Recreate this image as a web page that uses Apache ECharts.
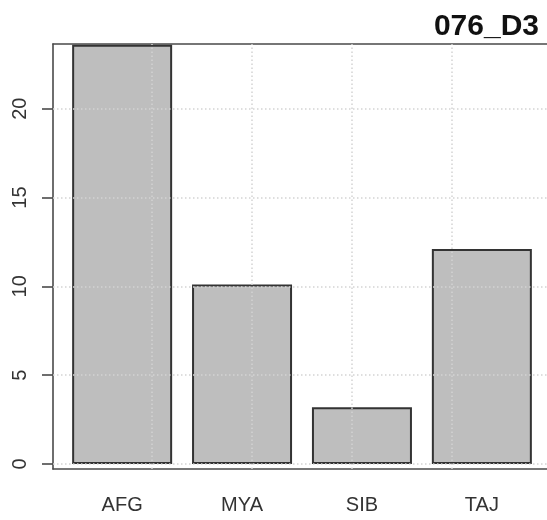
<!DOCTYPE html>
<html>
<head>
<meta charset="utf-8">
<script src="https://cdn.jsdelivr.net/npm/echarts@6/dist/echarts.min.js"></script>
<style>
  html, body { margin: 0; padding: 0; background: #ffffff; }
  #chart { width: 547px; height: 520px; }
</style>
</head>
<body>
<div id="chart"></div>
<script>
// Counts per region
const categories = ['AFG', 'MYA', 'SIB', 'TAJ'];
const counts = [23.6, 10.1, 3.2, 12.1];
const yTickValues = [0, 5, 10, 15, 20];
const xGridValues = [1, 2, 3, 4];
const chartTitle = '076_D3';

// Bar layout in axis units: each bar is 1 wide with 0.2 space before it
const barSpace = 0.2;
const barUnit = 1;
const centers = categories.map((_, i) => barSpace + i * (barUnit + barSpace) + barUnit / 2);

const frameStyle = { color: '#4a4a4a', width: 1.6 };
const textColor = '#333333';
const font = 'Liberation Sans, Arial, sans-serif';

const chart = echarts.init(document.getElementById('chart'), null, { renderer: 'canvas' });

chart.setOption({
  animation: false,
  backgroundColor: '#ffffff',
  title: {
    text: chartTitle,
    right: 3,
    top: 7,
    textStyle: { fontSize: 30, fontWeight: 'bold', color: '#111111', fontFamily: font }
  },
  // the plot frame runs a little past the right edge of the page
  grid: { left: 53, top: 44, width: 498, height: 425, containLabel: false, outerBoundsMode: 'none' },
  xAxis: [
    {
      type: 'value',
      min: 0.008,
      max: 4.992,
      position: 'bottom',
      axisLine: { show: true, onZero: false, lineStyle: frameStyle },
      axisTick: { show: false },
      splitLine: { show: false },
      axisLabel: {
        customValues: centers,
        formatter: v => categories[Math.round((v - centers[0]) / (barUnit + barSpace))],
        fontSize: 20,
        color: textColor,
        fontFamily: font,
        margin: 26
      }
    },
    {
      type: 'value',
      min: 0.008,
      max: 4.992,
      position: 'top',
      axisLine: { show: true, onZero: false, lineStyle: frameStyle },
      axisTick: { show: false },
      axisLabel: { show: false },
      splitLine: { show: false }
    }
  ],
  yAxis: [
    {
      type: 'value',
      min: -0.28,
      max: 23.64,
      position: 'left',
      axisLine: { show: true, onZero: false, lineStyle: frameStyle },
      axisTick: { show: true, length: 11, customValues: yTickValues, lineStyle: frameStyle },
      axisLabel: {
        customValues: yTickValues,
        rotate: 90,
        fontSize: 20,
        color: textColor,
        fontFamily: font,
        margin: 23
      },
      splitLine: { show: false }
    },
    {
      type: 'value',
      min: -0.28,
      max: 23.64,
      position: 'right',
      axisLine: { show: true, onZero: false, lineStyle: frameStyle },
      axisTick: { show: false },
      axisLabel: { show: false },
      splitLine: { show: false }
    }
  ],
  series: [
    {
      type: 'bar',
      xAxisIndex: 0,
      yAxisIndex: 0,
      data: counts.map((v, i) => [centers[i], v]),
      barWidth: 100,
      itemStyle: { color: '#bebebe', borderColor: '#333333', borderWidth: 2 },
      markLine: {
        silent: true,
        symbol: 'none',
        label: { show: false },
        lineStyle: { color: '#d3d3d3', type: [1.5, 2.5], width: 1.5 },
        data: yTickValues.map(v => ({ yAxis: v })).concat(xGridValues.map(v => ({ xAxis: v })))
      }
    }
  ]
});
</script>
</body>
</html>
